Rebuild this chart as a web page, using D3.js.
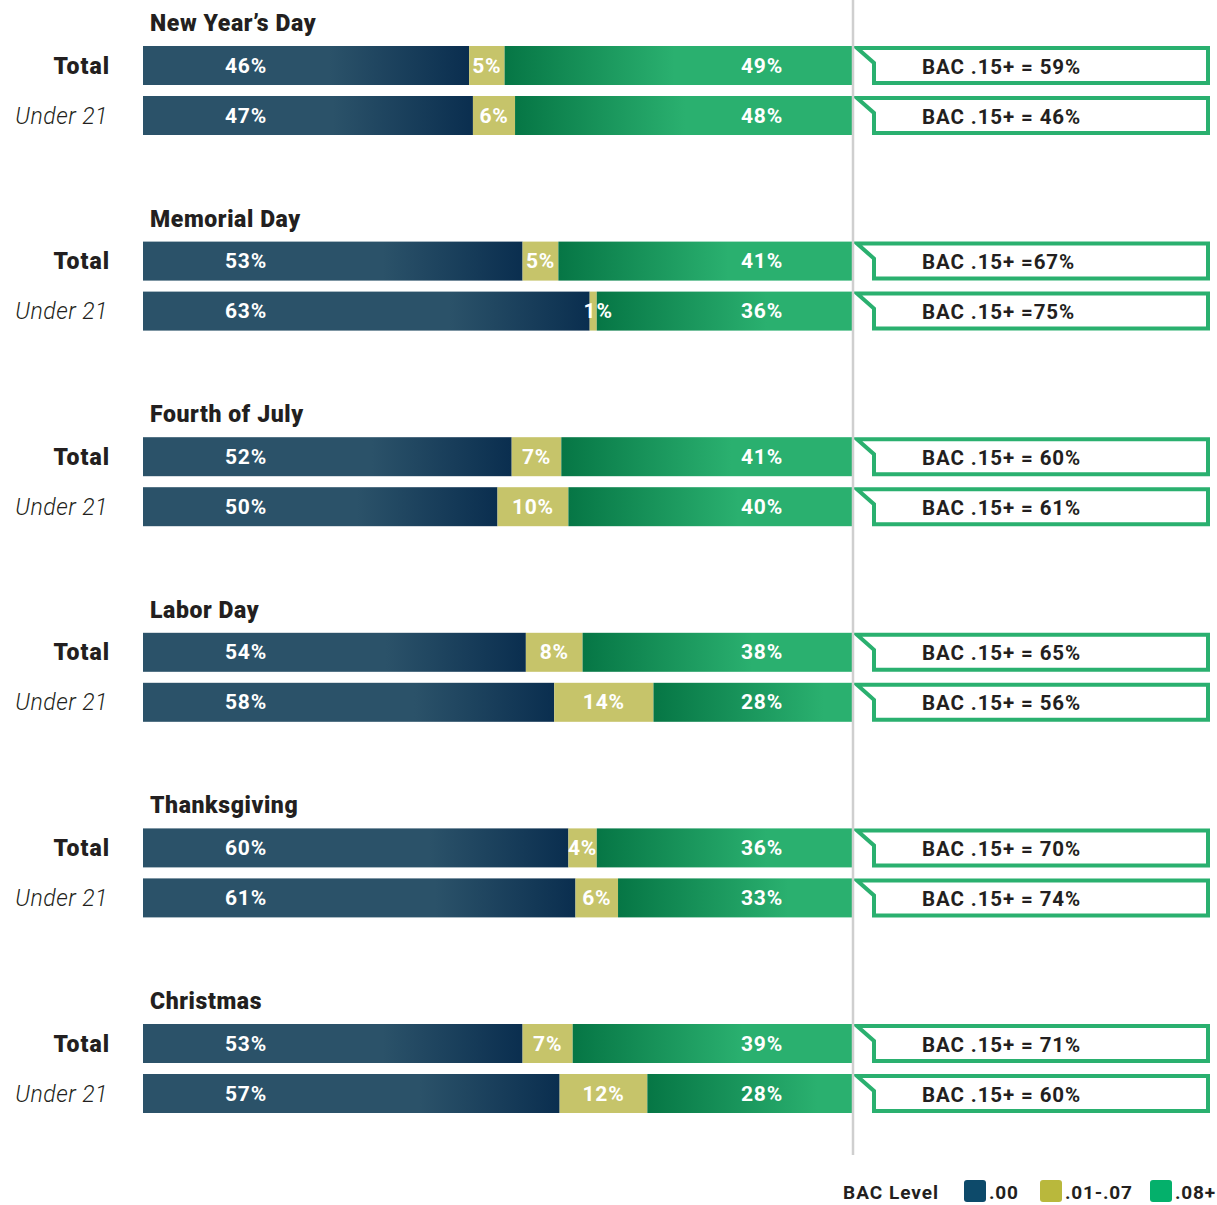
<!DOCTYPE html>
<html><head><meta charset="utf-8">
<script src="https://cdn.jsdelivr.net/npm/d3@7"></script>
<style>
html,body{margin:0;padding:0;background:#fff;}
svg{display:block;font-family:Roboto,"DejaVu Sans",sans-serif;}
</style></head>
<body><svg id="chart" width="1217" height="1205"></svg>
<script>
const holidays = ["New Year’s Day","Memorial Day","Fourth of July","Labor Day","Thanksgiving","Christmas"];
const groups = ["Total","Under 21"];
const bac00   = [[46,47],[53,63],[52,50],[54,58],[60,61],[53,57]];
const bac0107 = [[5,6],[5,1],[7,10],[8,14],[4,6],[7,12]];
const bac08   = [[49,48],[41,36],[41,40],[38,28],[36,33],[39,28]];
const bac15Labels = [
  ["BAC .15+ = 59%","BAC .15+ = 46%"],
  ["BAC .15+ =67%","BAC .15+ =75%"],
  ["BAC .15+ = 60%","BAC .15+ = 61%"],
  ["BAC .15+ = 65%","BAC .15+ = 56%"],
  ["BAC .15+ = 70%","BAC .15+ = 74%"],
  ["BAC .15+ = 71%","BAC .15+ = 60%"]
];
const legendLabels = [".00",".01-.07",".08+"];
const legendTitle = "BAC Level";

const svg = d3.select("#chart");
const defs = svg.append("defs");
const C = {blue:"#2b5269", blueDark:"#0a2e4f", yellow:"#c6c46a", green:"#2ab06f", greenDark:"#067645", text:"#231f20"};

const barLeft = 143, barRight = 852;
const yGroup = d3.scalePoint().domain(holidays).range([46, 1024]);
const yRow = d3.scaleBand().domain(groups).range([0, 89]).paddingInner(0.22);
const barH = yRow.bandwidth();

let gid = 0;
holidays.forEach((h, i) => {
  const top = yGroup(h);
  svg.append("text").attr("x", 150).attr("y", top - 15)
    .attr("font-size", 23).attr("font-weight", 900).attr("letter-spacing", 0.6).attr("fill", C.text)
    .text(h);
  groups.forEach((g, j) => {
    const vals = [bac00[i][j], bac0107[i][j], bac08[i][j]];
    const total = d3.sum(vals);
    const x = d3.scaleLinear().domain([0, total]).range([barLeft, barRight]);
    const y0 = top + yRow(g);
    const cy = y0 + barH / 2;
    const x1 = x(vals[0]), x2 = x(vals[0] + vals[1]), x3 = x(total);
    const gb = "gb" + (gid), gg = "gg" + (gid++);
    const lb = defs.append("linearGradient").attr("id", gb).attr("gradientUnits","userSpaceOnUse")
      .attr("x1", x1 - 140).attr("x2", x1).attr("y1",0).attr("y2",0);
    lb.append("stop").attr("offset",0).attr("stop-color",C.blue);
    lb.append("stop").attr("offset",1).attr("stop-color",C.blueDark);
    const lg = defs.append("linearGradient").attr("id", gg).attr("gradientUnits","userSpaceOnUse")
      .attr("x1", x2).attr("x2", x2 + 170).attr("y1",0).attr("y2",0);
    lg.append("stop").attr("offset",0).attr("stop-color",C.greenDark);
    lg.append("stop").attr("offset",1).attr("stop-color",C.green);

    svg.append("rect").attr("x", x(0)).attr("y", y0).attr("width", x1 - x(0)).attr("height", barH).attr("fill", `url(#${gb})`);
    svg.append("rect").attr("x", x1).attr("y", y0).attr("width", x2 - x1).attr("height", barH).attr("fill", C.yellow);
    svg.append("rect").attr("x", x2).attr("y", y0).attr("width", x3 - x2).attr("height", barH).attr("fill", `url(#${gg})`);

    const lab = (xx, t) => svg.append("text").attr("x", xx).attr("y", cy + 7)
      .attr("text-anchor","middle").attr("font-size", 21).attr("font-weight", 700).attr("letter-spacing", 0.8)
      .attr("fill","#fff").text(t + "%");
    lab(x(0) + 103, vals[0]);
    lab((x1 + x2) / 2 + (vals[1] < 2 ? 5 : 0), vals[1]);
    lab(x(total) - 90, vals[2]);

    if (j === 0) {
      svg.append("text").attr("x", 110).attr("y", cy + 8).attr("text-anchor","end")
        .attr("font-size", 23).attr("font-weight", 900).attr("letter-spacing", 1).attr("fill", C.text).text(g);
    } else {
      svg.append("text").attr("x", 108).attr("y", cy + 8).attr("text-anchor","end")
        .attr("font-size", 23).attr("font-style","italic").attr("font-weight", 300).attr("letter-spacing", 0.5)
        .attr("fill", C.text).text(g);
    }

    const L = 857, R = 1208, T = y0 + 2, B = y0 + barH - 2, V = 874;
    svg.append("path").attr("d", `M${L},${T}L${R},${T}L${R},${B}L${V},${B}L${V},${T + 15}Z`)
      .attr("fill","#fff").attr("stroke", C.green).attr("stroke-width", 4);
    svg.append("text").attr("x", 922).attr("y", cy + 8)
      .attr("font-size", 20.5).attr("font-weight", 700).attr("letter-spacing", 0.9).attr("fill", C.text).text(bac15Labels[i][j]);
  });
});

svg.append("line").attr("x1", 853).attr("x2", 853).attr("y1", 0).attr("y2", 1155)
  .attr("stroke", "#cfcfcf").attr("stroke-width", 2.5);

const lgColors = ["#0d4a6a", "#b9b83c", "#04b06b"];
const lgX = [964, 1040, 1150];
svg.append("text").attr("x", 843).attr("y", 1199).attr("font-size", 19).attr("font-weight", 700)
  .attr("letter-spacing", 1).attr("fill", C.text).text(legendTitle);
legendLabels.forEach((t, k) => {
  svg.append("rect").attr("x", lgX[k]).attr("y", 1180).attr("width", 22).attr("height", 22)
    .attr("rx", 3).attr("fill", lgColors[k]);
  svg.append("text").attr("x", lgX[k] + 25).attr("y", 1199).attr("font-size", 19).attr("font-weight", 700)
    .attr("letter-spacing", 0.8).attr("fill", C.text).text(t);
});
</script></body></html>
